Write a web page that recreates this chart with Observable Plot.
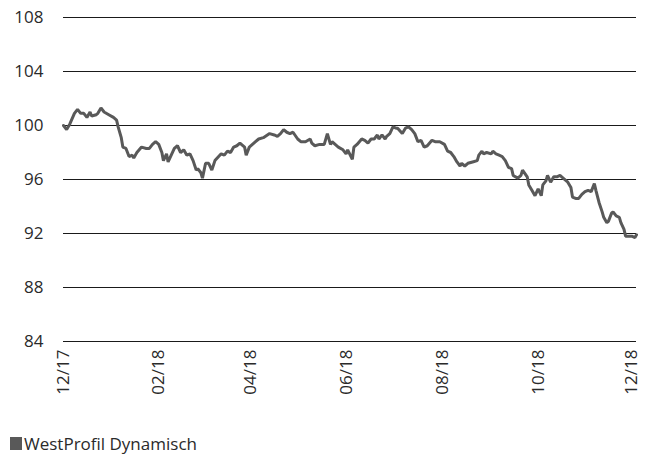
<!DOCTYPE html>
<html>
<head>
<meta charset="utf-8">
<script src="https://cdn.jsdelivr.net/npm/d3@7"></script>
<script src="https://cdn.jsdelivr.net/npm/@observablehq/plot@0.6"></script>
<style>
  html, body { margin: 0; padding: 0; background: #fff; }
  body { width: 654px; height: 459px; position: relative; font-family: "Open Sans", sans-serif; }
  #chart { position: absolute; left: 0; top: 0; }
  #legend { position: absolute; left: 10px; top: 432px; display: flex; align-items: center; font-size: 17px; color: #2a2a2a; }
  #legend .sw { width: 12px; height: 13px; background: #595959; margin-right: 2px; }
</style>
</head>
<body>
<div id="chart"></div>
<div id="legend"><span class="sw"></span><span>WestProfil Dynamisch</span></div>
<script>
const seriesName = "WestProfil Dynamisch";
const startDate = "2017-12-29";
// days after start date
const days = [0,2,4,7,9,11,13,15,17,18,21,22,24,26,29,32,34,35,37,38,40,42,44,45,47,50,53,55,57,59,
  61,63,64,66,67,69,71,73,75,77,79,81,83,85,86,88,89,91,93,95,97,101,103,105,107,109,111,113,116,117,119,121,123,
  125,128,132,135,137,139,141,143,145,147,150,152,155,158,159,161,164,166,167,169,171,172,174,176,179,181,182,
  185,186,188,191,193,195,197,199,201,202,204,206,207,209,211,213,214,217,219,221,223,225,227,229,231,233,236,238,241,
  244,246,248,250,252,254,255,257,259,262,265,266,268,269,271,274,275,277,279,281,283,285,287,288,291,293,294,297,298,300,302,
  304,306,307,309,310,312,314,316,318,320,323,325,326,328,330,332,334,336,338,340,341,343,345,346,348,349,351,352,354,356,357,359,360,362,364,366,367];
const values = [100.0,99.7,100.1,100.9,101.2,100.9,100.9,100.6,101.0,100.7,100.8,100.9,101.3,101.0,100.8,100.6,100.4,99.9,99.1,98.4,98.3,97.7,97.8,97.6,98.0,98.4,98.3,98.3,98.6,98.8,
  98.6,98.0,97.4,97.9,97.3,97.8,98.3,98.5,98.0,98.2,97.8,97.9,97.4,96.7,96.8,96.5,96.1,97.2,97.2,96.7,97.4,97.9,97.8,98.1,98.0,98.4,98.5,98.7,98.4,97.8,98.4,98.6,98.8,
  99.0,99.1,99.4,99.3,99.2,99.4,99.7,99.5,99.4,99.5,99.0,98.8,98.8,99.0,98.7,98.5,98.6,98.6,98.6,99.4,98.6,98.8,98.6,98.4,98.2,97.9,98.2,
  97.5,98.4,98.6,99.0,98.9,98.7,99.0,99.0,99.3,99.0,99.3,99.0,99.2,99.4,99.9,99.8,99.8,99.4,99.8,99.9,99.7,99.4,98.8,98.9,98.4,98.5,98.9,98.8,98.8,
  98.6,98.1,98.0,97.7,97.3,97.0,97.2,97.0,97.2,97.3,97.4,97.8,98.1,97.9,98.0,97.9,98.1,97.9,97.8,97.7,97.4,96.9,96.8,96.3,96.1,96.3,96.7,96.2,95.6,95.2,94.8,
  95.3,94.8,95.6,95.9,96.3,95.8,96.2,96.2,96.3,96.1,95.8,95.4,94.7,94.6,94.6,94.9,95.1,95.2,95.1,95.7,95.2,94.3,93.6,93.2,92.8,92.9,93.5,93.6,93.3,93.2,92.8,92.3,91.8,91.8,91.8,91.7,91.9];
const yTicks = [84, 88, 92, 96, 100, 104, 108];
const xTickDates = ["2017-12-29","2018-02-28","2018-04-28","2018-06-28","2018-08-29","2018-10-29","2018-12-28"];

const start = new Date(startDate + "T00:00:00Z");
const data = days.map((d, i) => ({date: d3.utcDay.offset(start, d), value: values[i]}));
const xTicks = xTickDates.map(s => new Date(s + "T00:00:00Z"));

const chart = Plot.plot({
  width: 654,
  height: 425,
  marginTop: 17,
  marginBottom: 84,
  marginLeft: 63,
  marginRight: 18,
  style: {fontFamily: "Open Sans, sans-serif", fontSize: "17px", color: "#2a2a2a", background: "#fff"},
  x: {type: "utc", domain: [start, d3.utcDay.offset(start, 367)], ticks: xTicks, tickFormat: d3.utcFormat("%m/%y"), tickRotate: -90, tickSize: 0, tickPadding: 8, label: null},
  y: {domain: [84, 108], ticks: yTicks, tickSize: 0, tickPadding: 20, label: null},
  marks: [
    Plot.ruleY(yTicks, {stroke: "#1a1a1a", strokeWidth: 1.2}),
    Plot.line(data, {x: "date", y: "value", stroke: "#595959", strokeWidth: 3, strokeLinejoin: "miter", curve: "linear"})
  ]
});
document.getElementById("chart").appendChild(chart);
</script>
</body>
</html>
